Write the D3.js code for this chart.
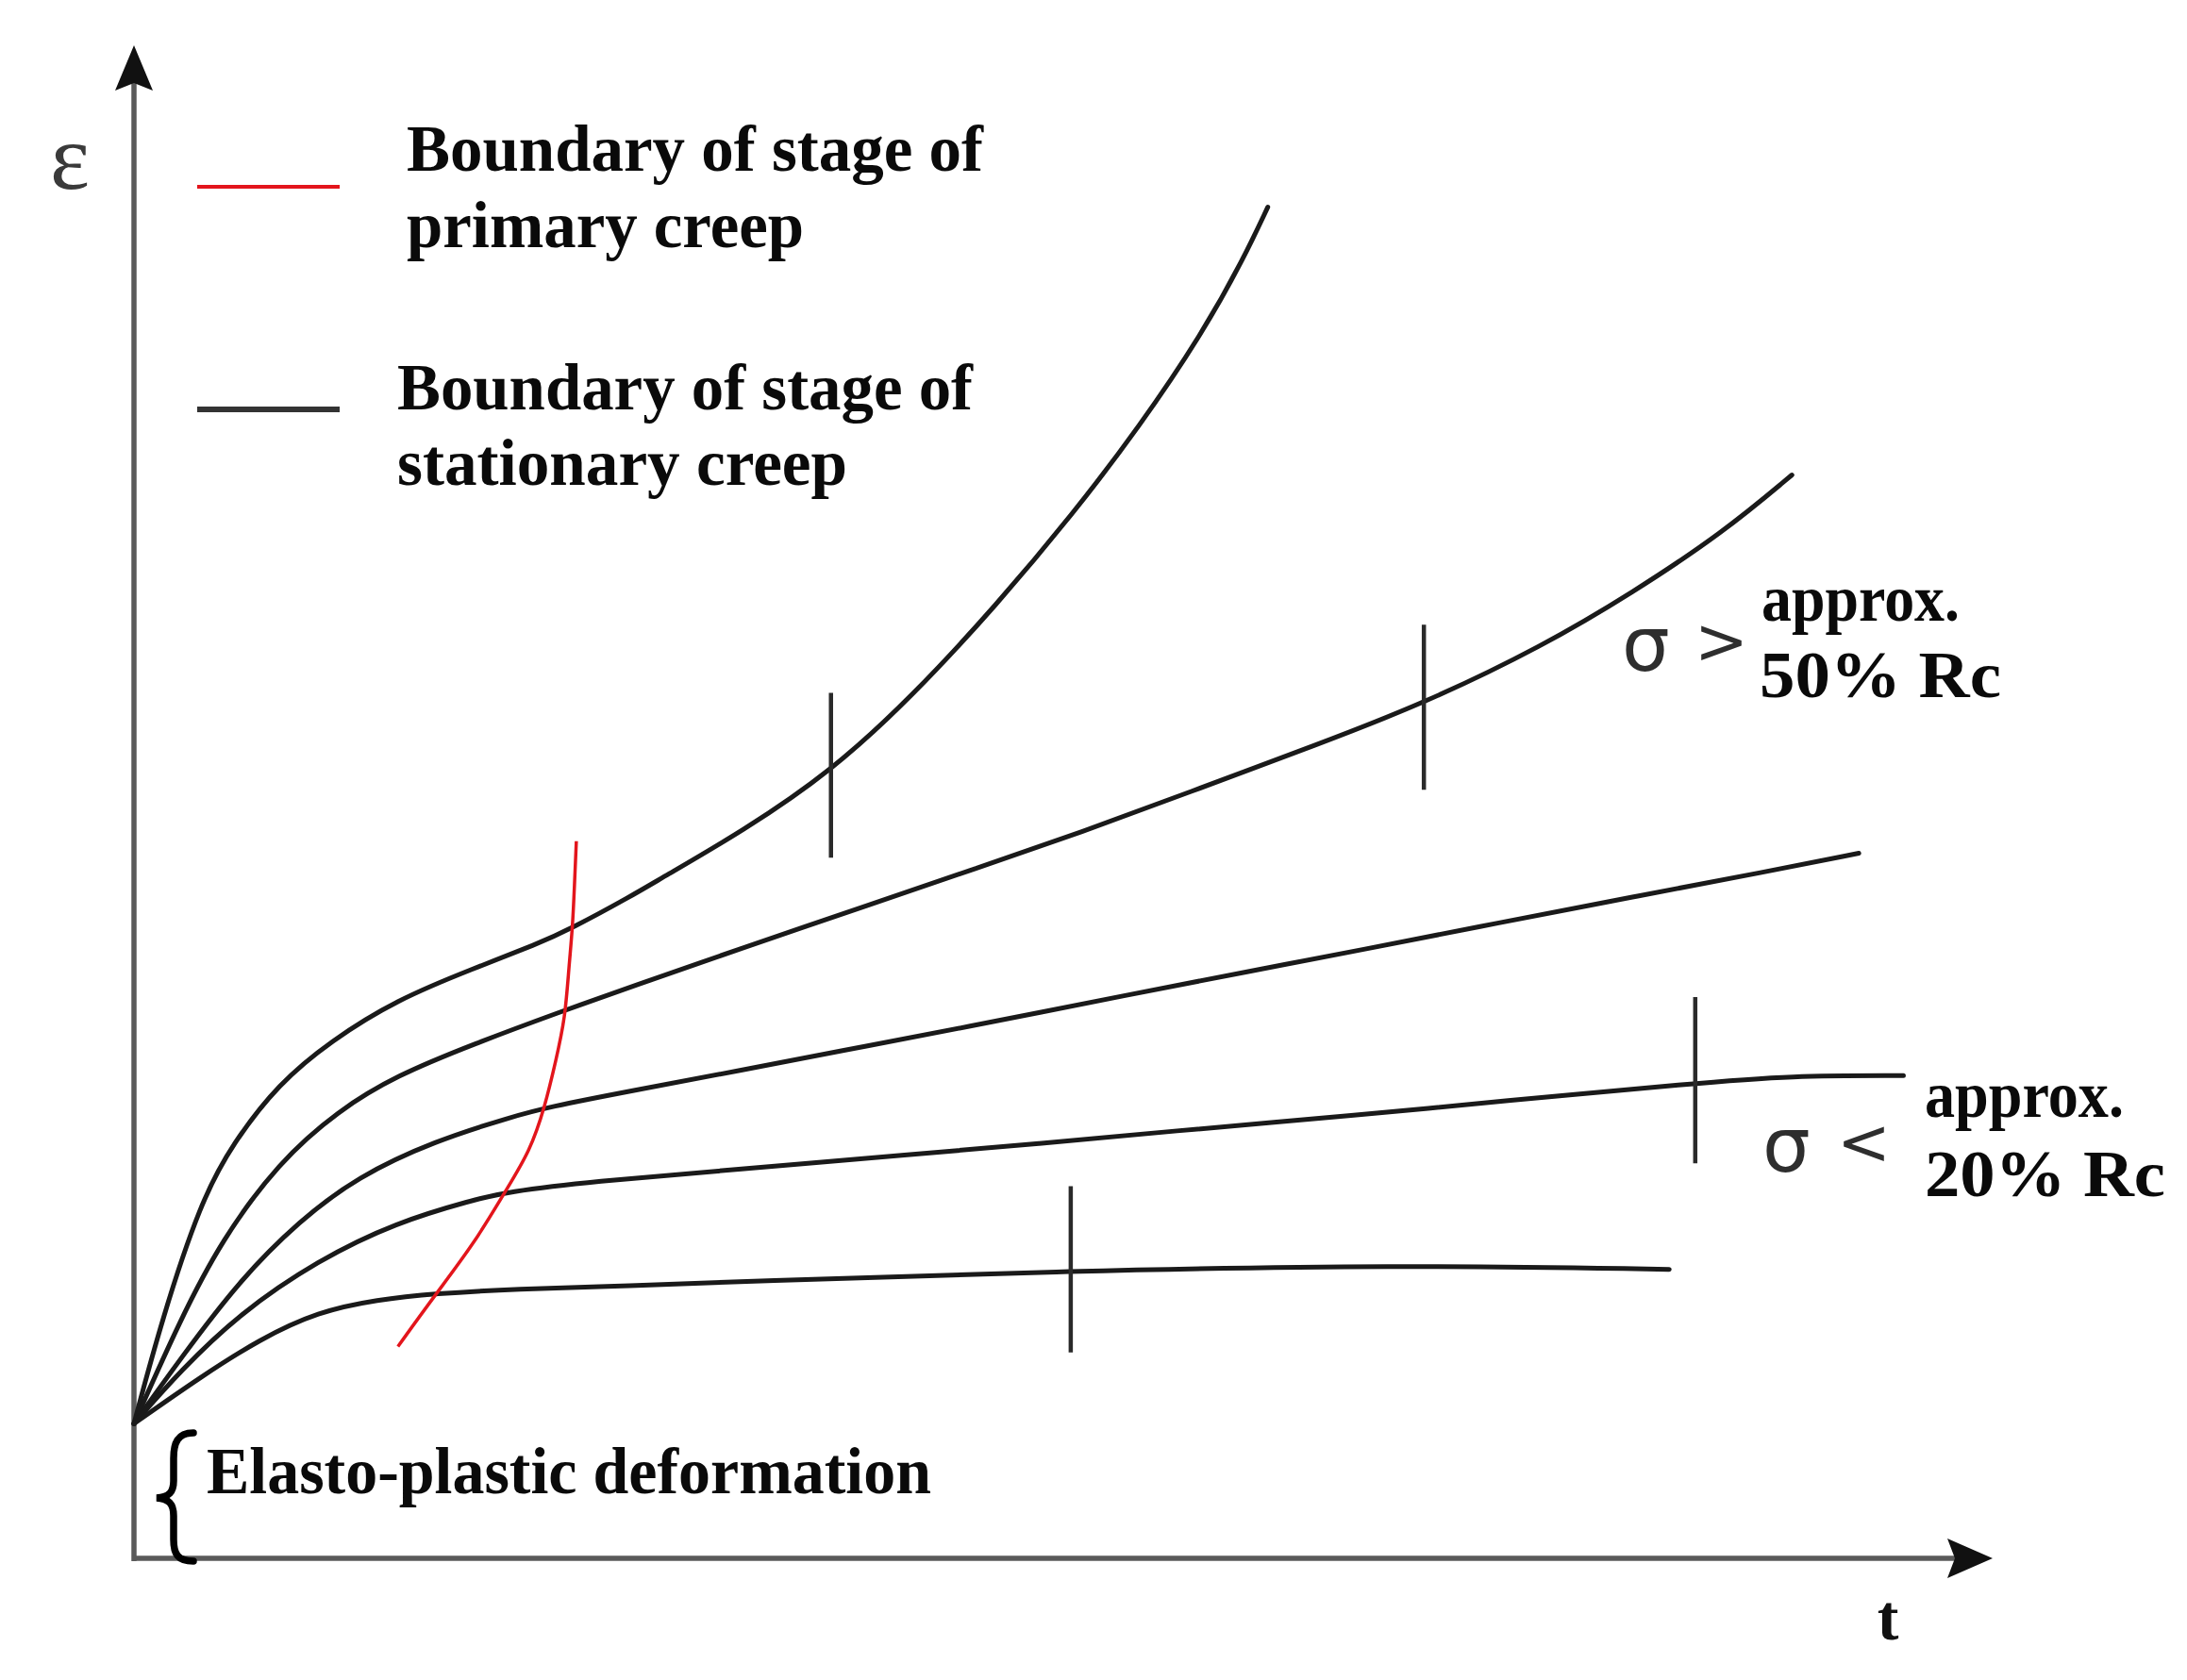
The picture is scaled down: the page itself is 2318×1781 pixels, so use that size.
<!DOCTYPE html>
<html>
<head>
<meta charset="utf-8">
<script src="https://cdn.jsdelivr.net/npm/d3@7/dist/d3.min.js"></script>
<style>
  html, body { margin: 0; padding: 0; background: #ffffff; }
  svg { display: block; }
</style>
</head>
<body>
<svg id="chart" width="2318" height="1781"></svg>
<script>
// ---------- DATA (t, ε in arbitrary units) ----------
const curveHigh = [[0,8.9],[1.5,15.8],[3.6,23.6],[5.3,27.4],[7.8,31.4],[10.6,34.2],[14.1,36.9],[18.3,39.0],[21.7,40.6],[23.5,41.6],[26.8,43.8],[28.3,44.9],[32.8,48.1],[37.5,52.0],[41.9,57.0],[46.4,63.0],[50.5,69.0],[54.1,74.8],[57.5,81.0],[59.7,85.9],[61.0,89.3]];
const curveMidHigh = [[0,8.9],[2.5,15.8],[4.7,21.0],[7.8,26.2],[11.0,29.6],[14.1,31.9],[18.3,34.0],[22.9,36.1],[26.8,37.8],[32.4,40.2],[39.6,43.2],[45.3,45.6],[51.0,48.0],[56.7,50.6],[63.7,53.8],[69.4,56.5],[75.8,60.3],[80.6,63.8],[85.5,67.8],[89.2,71.6]];
const curveMid = [[0,8.9],[2.5,13.2],[5.7,18.4],[8.9,22.3],[12.0,25.2],[16.2,27.6],[20.4,29.2],[22.2,29.8],[26.8,30.9],[32.4,32.2],[39.6,33.9],[46.4,35.5],[53.3,37.2],[60.0,38.8],[66.0,40.2],[73.4,42.0],[80.6,43.7],[87.9,45.4],[92.8,46.6]];
const curveMidLow = [[0,8.9],[2.5,12.4],[5.7,16.2],[9.9,19.7],[14.1,22.2],[18.3,23.7],[20.0,24.2],[24.6,24.9],[32.4,25.7],[41.9,26.7],[48.7,27.4],[55.5,28.2],[66.0,29.3],[73.4,30.2],[84.0,31.4],[89.1,31.9],[95.2,31.9]];
const curveLow = [[0,8.9],[3.6,12.0],[6.8,14.5],[9.9,16.3],[13.1,17.1],[16.2,17.5],[20.4,17.8],[26.8,18.0],[32.4,18.3],[50.4,19.0],[67.9,19.4],[82.6,19.1]];
const primaryBoundary = [[14.2,14.0],[16.2,17.4],[18.3,20.8],[20.0,24.3],[21.3,26.9],[22.1,29.8],[22.7,32.9],[23.2,35.7],[23.4,39.1],[23.6,41.7],[23.7,44.5],[23.8,47.4]];
const stationaryT    = [37.5, 69.4, 84.0, 50.4];
const stationaryLow  = [46.3, 50.8, 26.1, 13.6];
const stationaryHigh = [57.2, 61.7, 37.1, 24.6];

const legendPrimary    = ["Boundary of stage of", "primary creep"];
const legendStationary = ["Boundary of stage of", "stationary creep"];
const highStressLabel  = ["approx.", "50% Rc"];
const lowStressLabel   = ["approx.", "20% Rc"];
const elasticLabel     = "Elasto-plastic deformation";
const yAxisLabel = "ε";
const xAxisLabel = "t";

// ---------- SETUP ----------
const svg = d3.select("#chart");
svg.append("rect").attr("width", 2318).attr("height", 1781).attr("fill", "#ffffff");

const x = d3.scaleLinear().domain([0, 100]).range([142, 2112]);
const y = d3.scaleLinear().domain([0, 100]).range([1652, 48]);

const serif = "'Liberation Serif', 'Times New Roman', serif";

// ---------- AXES ----------
const axisColor = "#5a5a5a";
svg.append("line")
  .attr("x1", x(0)).attr("y1", y(0) + 3)
  .attr("x2", x(0)).attr("y2", y(100) + 40)
  .attr("stroke", axisColor).attr("stroke-width", 5.5);
svg.append("path")
  .attr("d", `M${x(0)},${y(100)} L${x(0) - 20},${y(100) + 48} L${x(0)},${y(100) + 40} L${x(0) + 20},${y(100) + 48} Z`)
  .attr("fill", "#111");
svg.append("line")
  .attr("x1", x(0) - 2).attr("y1", y(0))
  .attr("x2", x(100) - 40).attr("y2", y(0))
  .attr("stroke", axisColor).attr("stroke-width", 5.5);
svg.append("path")
  .attr("d", `M${x(100)},${y(0)} L${x(100) - 48},${y(0) - 21} L${x(100) - 40},${y(0)} L${x(100) - 48},${y(0) + 21} Z`)
  .attr("fill", "#111");

svg.append("text").text(yAxisLabel)
  .attr("x", 74).attr("y", 200).attr("text-anchor", "middle")
  .attr("font-family", serif).attr("font-size", 100).attr("fill", "#3a3a3a");
svg.append("text").text(xAxisLabel)
  .attr("x", 2001).attr("y", 1738).attr("text-anchor", "middle")
  .attr("font-family", serif).attr("font-weight", "bold").attr("font-size", 68).attr("fill", "#111");

// ---------- CURVES ----------
const line = d3.line()
  .x(d => x(d[0])).y(d => y(d[1]))
  .curve(d3.curveBasis);

const curves = [curveHigh, curveMidHigh, curveMid, curveMidLow, curveLow];
svg.append("g").selectAll("path").data(curves).join("path")
  .attr("d", line)
  .attr("fill", "none").attr("stroke", "#1a1a1a").attr("stroke-width", 5)
  .attr("stroke-linecap", "round");

// stationary-creep boundary marks
svg.append("g").selectAll("line").data(stationaryT).join("line")
  .attr("x1", d => x(d)).attr("x2", d => x(d))
  .attr("y1", (d, i) => y(stationaryLow[i])).attr("y2", (d, i) => y(stationaryHigh[i]))
  .attr("stroke", "#2a2a2a").attr("stroke-width", 4.5);

// primary creep boundary
svg.append("path").datum(primaryBoundary)
  .attr("d", line)
  .attr("fill", "none").attr("stroke", "#e3151c").attr("stroke-width", 3.5);

// ---------- LEGEND ----------
svg.append("line").attr("x1", 209).attr("x2", 360).attr("y1", 198).attr("y2", 198)
  .attr("stroke", "#e3151c").attr("stroke-width", 4);
svg.append("line").attr("x1", 209).attr("x2", 360).attr("y1", 434).attr("y2", 434)
  .attr("stroke", "#333").attr("stroke-width", 6);

function boldText(str, xPos, yPos, width, size) {
  svg.append("text").text(str)
    .attr("x", xPos).attr("y", yPos)
    .attr("font-family", serif).attr("font-weight", "bold")
    .attr("font-size", size || 70).attr("fill", "#0a0a0a")
    .attr("textLength", width).attr("lengthAdjust", "spacingAndGlyphs");
}
boldText(legendPrimary[0], 431, 181, 611);
boldText(legendPrimary[1], 431, 262, 421);
boldText(legendStationary[0], 421, 434, 610);
boldText(legendStationary[1], 421, 514, 477);

// ---------- STRESS LABELS ----------
const sans = "'DejaVu Sans', sans-serif";
function sym(str, xPos, yPos, size) {
  svg.append("text").text(str).attr("x", xPos).attr("y", yPos)
    .attr("font-family", sans).attr("font-size", size).attr("fill", "#2e2e2e");
}
sym("σ", 1719, 711, 80);
sym(">", 1796, 703, 68);
boldText(highStressLabel[0], 1867, 658, 210);
boldText(highStressLabel[1], 1865, 739, 256);

sym("σ", 1868, 1242, 80);
sym("<", 1947, 1234, 68);
boldText(lowStressLabel[0], 2040, 1184, 211);
boldText(lowStressLabel[1], 2040, 1268, 255);

// ---------- ELASTO-PLASTIC ----------
svg.append("path")
  .attr("d", "M205,1519 C188,1519 184,1530 184,1546 L184,1570 C184,1582 179,1587 166,1588 C179,1589 184,1594 184,1607 L184,1632 C184,1647 188,1655 205,1655")
  .attr("fill", "none").attr("stroke", "#000").attr("stroke-width", 7.5).attr("stroke-linecap", "round");
boldText(elasticLabel, 219, 1583, 768);
</script>
</body>
</html>
